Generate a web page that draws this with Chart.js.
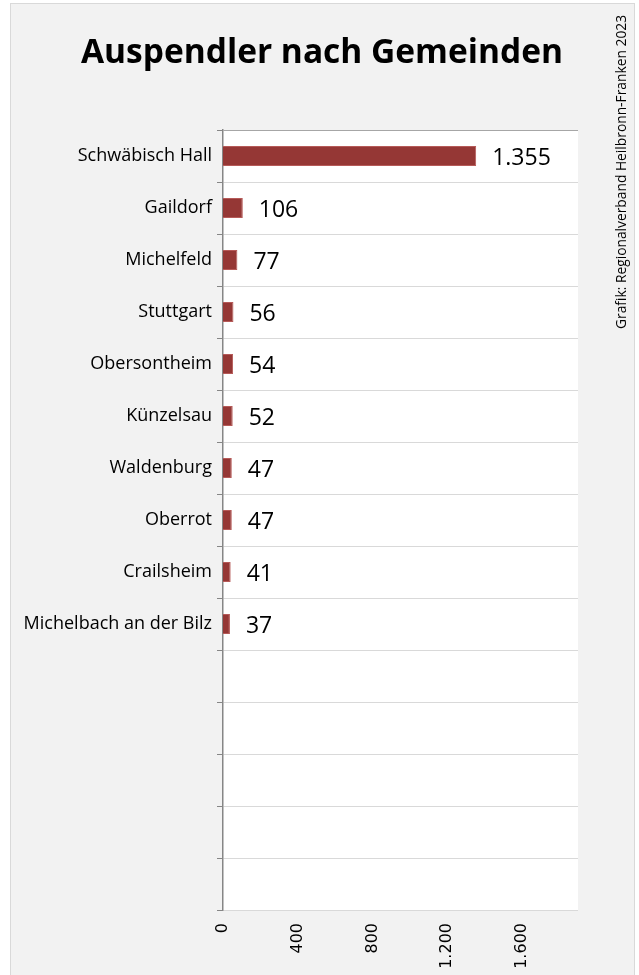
<!DOCTYPE html>
<html>
<head>
<meta charset="utf-8">
<script src="https://cdn.jsdelivr.net/npm/chart.js@4"></script>
<style>
  html, body { margin: 0; padding: 0; background: #fff; }
  #wrap { position: absolute; left: 0; top: 0; width: 639px; height: 975px; }
</style>
</head>
<body>
<div id="wrap"><canvas id="chart"></canvas></div>
<script>
const gemeinden = ['Schwäbisch Hall', 'Gaildorf', 'Michelfeld', 'Stuttgart', 'Obersontheim',
  'Künzelsau', 'Waldenburg', 'Oberrot', 'Crailsheim', 'Michelbach an der Bilz', '', '', '', '', ''];
const auspendler = [1355, 106, 77, 56, 54, 52, 47, 47, 41, 37];
const xTicks = [0, 400, 800, 1200, 1600];

const fmt = v => v.toLocaleString('de-DE');

const frame = {
  id: 'frame',
  beforeDraw(chart) {
    const { ctx, chartArea: a } = chart;
    ctx.save();
    ctx.fillStyle = '#f2f2f2';
    ctx.fillRect(10, 3, 625, 990);
    ctx.strokeStyle = '#d9d9d9';
    ctx.lineWidth = 1;
    ctx.strokeRect(10.5, 3.5, 624, 990);
    ctx.fillStyle = '#ffffff';
    ctx.fillRect(a.left, a.top, a.right - a.left, a.bottom - a.top);
    ctx.restore();
  },
  afterDraw(chart) {
    const { ctx } = chart;
    ctx.save();
    ctx.fillStyle = '#000';
    ctx.font = 'bold 33.5px "Open Sans"';
    ctx.textAlign = 'center';
    ctx.textBaseline = 'alphabetic';
    ctx.fillText('Auspendler nach Gemeinden', 322, 63);

    ctx.translate(622, 329);
    ctx.rotate(-Math.PI / 2);
    ctx.font = '13.8px "Open Sans"';
    ctx.textAlign = 'left';
    ctx.textBaseline = 'middle';
    ctx.fillText('Grafik: Regionalverband Heilbronn-Franken 2023', 0, 0);
    ctx.restore();

    // Datenbeschriftung
    ctx.save();
    ctx.font = '23px "Open Sans"';
    ctx.fillStyle = '#000';
    ctx.textAlign = 'left';
    ctx.textBaseline = 'middle';
    chart.getDatasetMeta(0).data.forEach((bar, i) => {
      ctx.fillText(fmt(auspendler[i]), bar.x + 16, bar.y + 2);
    });
    ctx.restore();
  }
};

new Chart(document.getElementById('chart'), {
  type: 'bar',
  data: {
    labels: gemeinden,
    datasets: [{
      data: auspendler,
      backgroundColor: '#953735',
      borderColor: '#b65a58',
      borderWidth: 1,
      categoryPercentage: 1,
      barPercentage: 0.385
    }]
  },
  options: {
    indexAxis: 'y',
    responsive: true,
    maintainAspectRatio: false,
    animation: false,
    layout: { padding: { top: 130, right: 61, left: 0, bottom: 0 } },
    plugins: { legend: { display: false }, tooltip: { enabled: false } },
    scales: {
      x: {
        min: 0,
        max: 1900,
        afterFit(s) { s.height = 65; },
        afterBuildTicks(s) { s.ticks = xTicks.map(v => ({ value: v })); },
        grid: { display: false },
        border: { display: false },
        ticks: {
          minRotation: 90,
          maxRotation: 90,
          padding: 5,
          color: '#000',
          font: { family: 'DejaVu Sans', size: 16 },
          callback: v => fmt(v)
        }
      },
      y: {
        afterFit(s) { s.width = 223; },
        grid: {
          color: ctx => ctx.index === 0 ? '#a6a6a6' : '#d9d9d9',
          tickColor: '#868686',
          tickLength: 6,
          offset: true
        },
        border: { color: '#868686', width: 1.5 },
        ticks: {
          padding: 5,
          color: '#000',
          autoSkip: false,
          font: { family: 'Open Sans', size: 18 }
        }
      }
    }
  },
  plugins: [frame]
});
</script>
</body>
</html>
